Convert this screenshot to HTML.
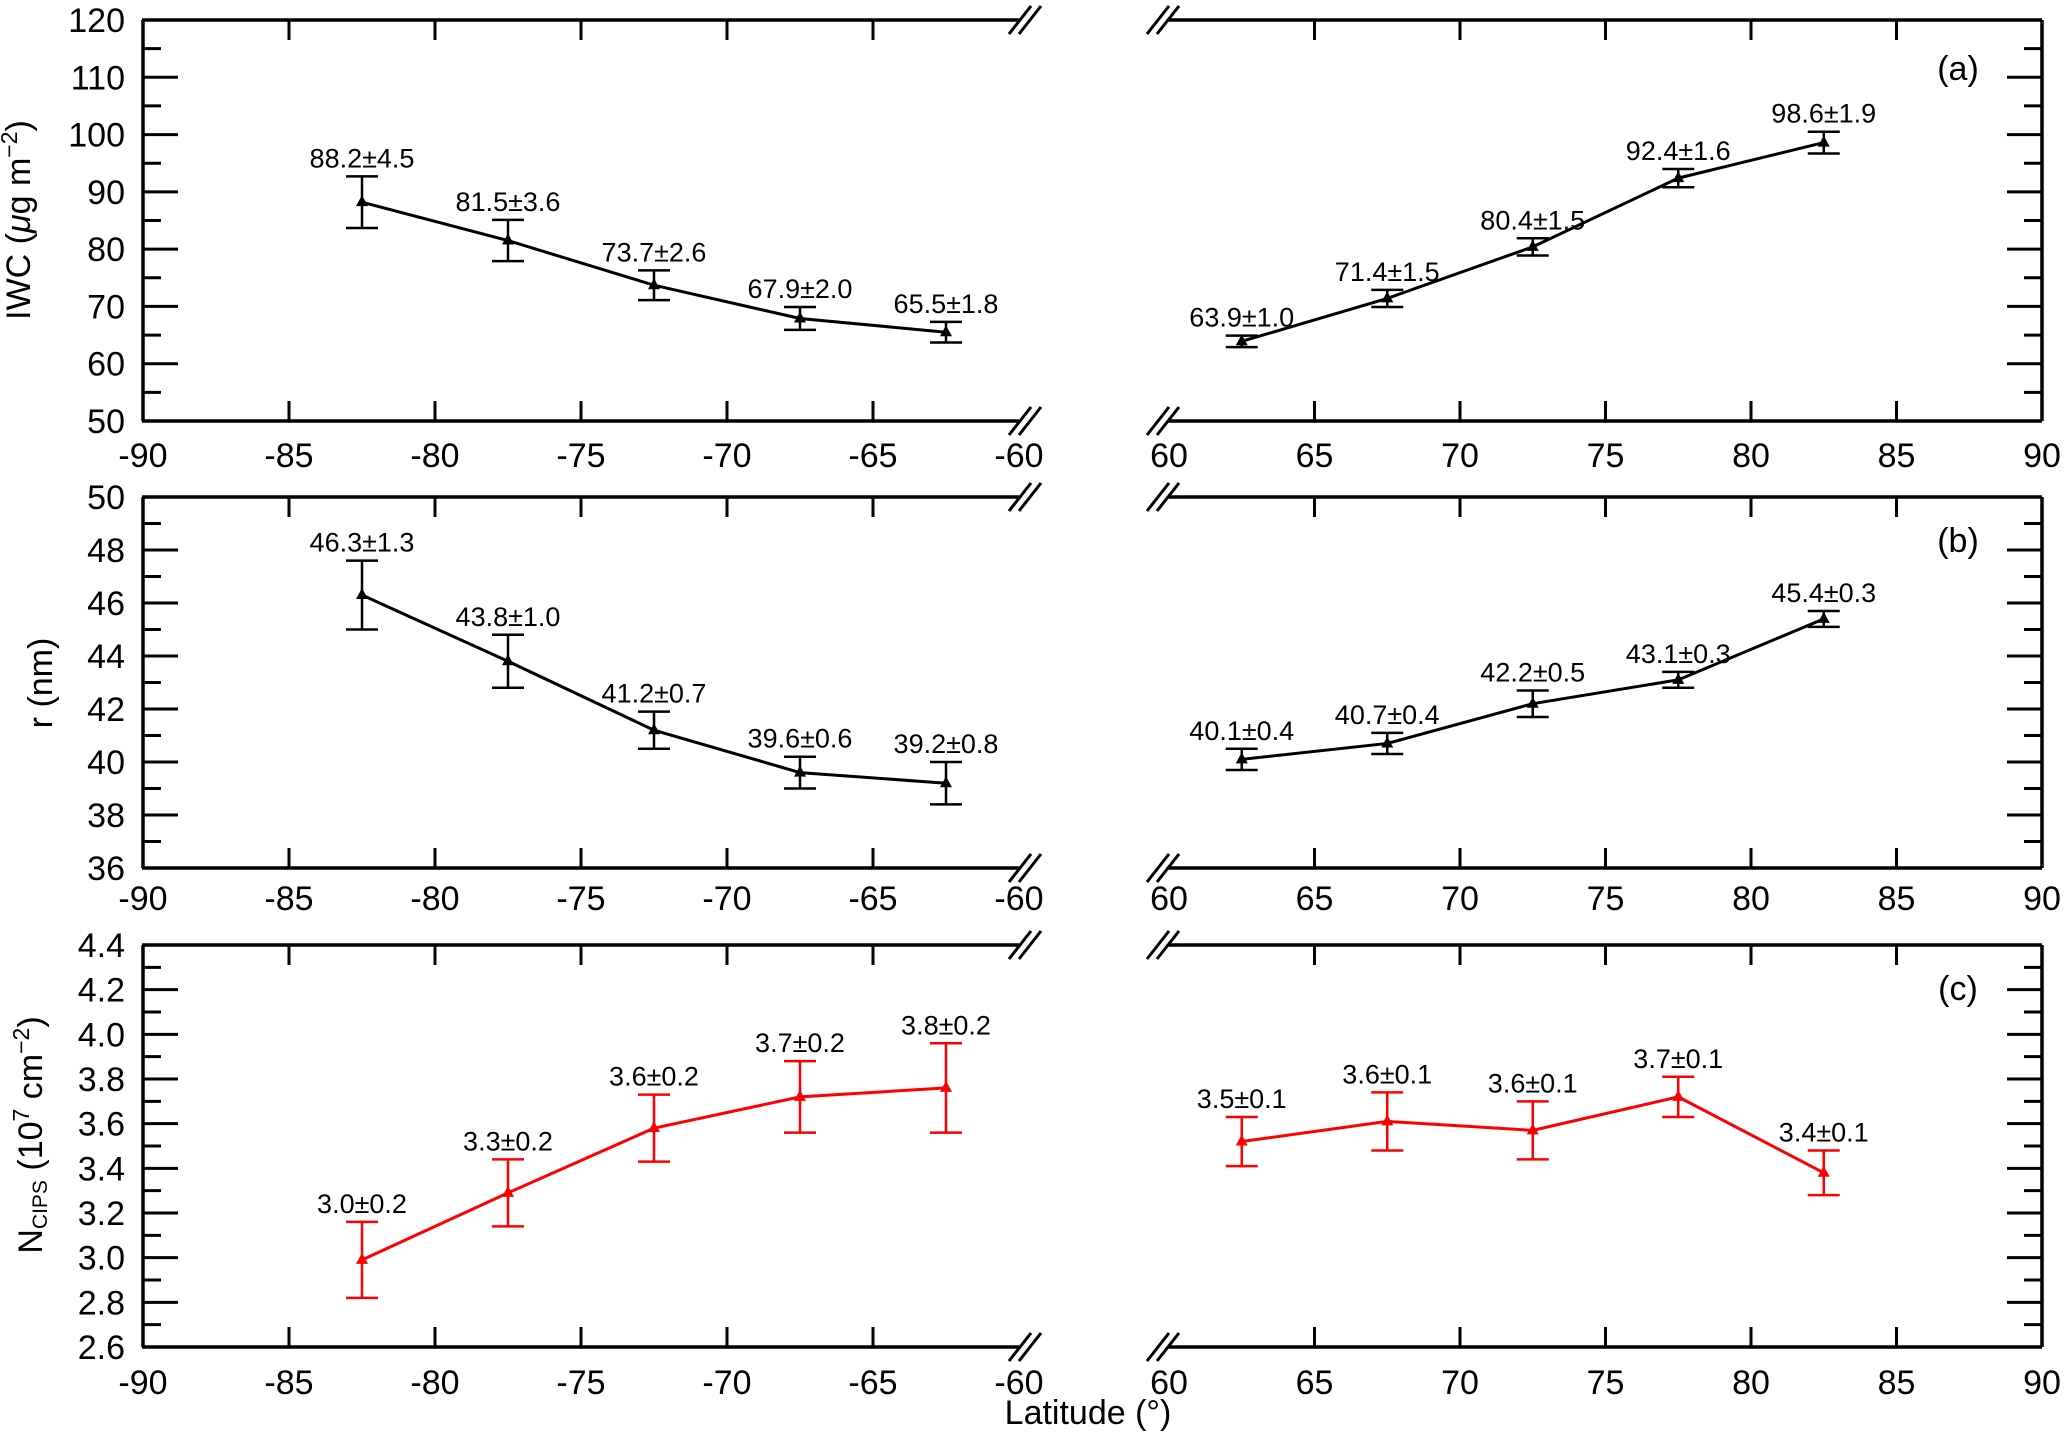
<!DOCTYPE html>
<html><head><meta charset="utf-8"><style>
html,body{margin:0;padding:0;background:#fff}
svg{display:block}
text{font-family:"Liberation Sans","DejaVu Sans",sans-serif;fill:#000}
</style></head><body>
<svg id="chart" xmlns="http://www.w3.org/2000/svg" width="2067" height="1441" viewBox="0 0 2067 1441"></svg>
<script>
const latsS = [-82.5, -77.5, -72.5, -67.5, -62.5];
const latsN = [62.5, 67.5, 72.5, 77.5, 82.5];
const iwcS = [88.2, 81.5, 73.7, 67.9, 65.5];
const iwcSErr = [4.5, 3.6, 2.6, 2.0, 1.8];
const iwcN = [63.9, 71.4, 80.4, 92.4, 98.6];
const iwcNErr = [1.0, 1.5, 1.5, 1.6, 1.9];
const rS = [46.3, 43.8, 41.2, 39.6, 39.2];
const rSErr = [1.3, 1.0, 0.7, 0.6, 0.8];
const rN = [40.1, 40.7, 42.2, 43.1, 45.4];
const rNErr = [0.4, 0.4, 0.5, 0.3, 0.3];
const nS = [2.99, 3.29, 3.58, 3.72, 3.76];
const nSErr = [0.17, 0.15, 0.15, 0.16, 0.20];
const nN = [3.52, 3.61, 3.57, 3.72, 3.38];
const nNErr = [0.11, 0.13, 0.13, 0.09, 0.10];
const nSLabels = ["3.0±0.2","3.3±0.2","3.6±0.2","3.7±0.2","3.8±0.2"];
const nNLabels = ["3.5±0.1","3.6±0.1","3.6±0.1","3.7±0.1","3.4±0.1"];
const xTicksS = [-90,-85,-80,-75,-70,-65,-60];
const xTicksN = [60,65,70,75,80,85,90];

const svg = document.getElementById('chart');
const NS = 'http://www.w3.org/2000/svg';
function mk(tag, attrs, parent, name){
  const e = document.createElementNS(NS, tag);
  for (const k in attrs) e.setAttribute(k, attrs[k]);
  
  
  (parent||svg).appendChild(e);
  return e;
}
const LX0=143, LX1=1019, RX0=1169, RX1=2042;
const xS = v => LX0 + (v+90)/30*(LX1-LX0);
const xN = v => RX0 + (v-60)/30*(RX1-RX0);

const panels = [
 {id:'a', top:20, bot:421, min:50, max:120, major:10, minor:5, dec:0,
  S:iwcS, SE:iwcSErr, N:iwcN, NE:iwcNErr, color:'#000', lblY:68,
  SL:iwcS.map((v,i)=>v.toFixed(1)+'±'+iwcSErr[i].toFixed(1)),
  NL:iwcN.map((v,i)=>v.toFixed(1)+'±'+iwcNErr[i].toFixed(1)), xlab:455},
 {id:'b', top:497, bot:868, min:36, max:50, major:2, minor:1, dec:0,
  S:rS, SE:rSErr, N:rN, NE:rNErr, color:'#000', lblY:540,
  SL:rS.map((v,i)=>v.toFixed(1)+'±'+rSErr[i].toFixed(1)),
  NL:rN.map((v,i)=>v.toFixed(1)+'±'+rNErr[i].toFixed(1)), xlab:898},
 {id:'c', top:945, bot:1347, min:2.6, max:4.4, major:0.2, minor:0.1, dec:1,
  S:nS, SE:nSErr, N:nN, NE:nNErr, color:'#ff0000', lblY:988,
  SL:nSLabels, NL:nNLabels, xlab:1382}
];

panels.forEach(p=>{
  const g = mk('g', {}, svg, 'panel-'+p.id);
  const y = v => p.bot - (v-p.min)/(p.max-p.min)*(p.bot-p.top);
  const sw = 3.5;
  [[LX0,LX1,'left'],[RX0,RX1,'right']].forEach(([x0,x1,side])=>{
    mk('line',{x1:x0-1,y1:p.top,x2:x1,y2:p.top,stroke:'#000','stroke-width':sw},g,side+'-top-axis');
    mk('line',{x1:x0-1,y1:p.bot,x2:x1,y2:p.bot,stroke:'#000','stroke-width':sw},g,side+'-bottom-axis');
  });
  mk('line',{x1:LX0,y1:p.top,x2:LX0,y2:p.bot,stroke:'#000','stroke-width':sw},g,'left-y-axis');
  mk('line',{x1:RX1,y1:p.top,x2:RX1,y2:p.bot,stroke:'#000','stroke-width':sw},g,'right-y-axis');
  [[LX1+6,'left'],[RX0-6,'right']].forEach(([cx,side])=>{
    [p.top,p.bot].forEach(yy=>{
      [-5,5].forEach(o=>{
        mk('line',{x1:cx+o-11,y1:yy+14,x2:cx+o+11,y2:yy-14,stroke:'#000','stroke-width':3},g,side+'-axis-break');
      });
    });
  });
  const nMinor = Math.round((p.max-p.min)/p.minor);
  for(let i=0;i<=nMinor;i++){
    const v = p.min + i*p.minor;
    const isMaj = (i % Math.round(p.major/p.minor))===0;
    const len = isMaj?35:18;
    const yy = y(v);
    mk('line',{x1:LX0,y1:yy,x2:LX0+len,y2:yy,stroke:'#000','stroke-width':3},g,'y-tick');
    mk('line',{x1:RX1,y1:yy,x2:RX1-len,y2:yy,stroke:'#000','stroke-width':3},g,'y-tick-right');
    if(isMaj){
      const t = mk('text',{x:LX0-18,y:yy+12,'text-anchor':'end','font-size':34},g,'y-tick-label');
      t.textContent = v.toFixed(p.dec);
    }
  }
  [[xTicksS,xS],[xTicksN,xN]].forEach(([ticks,fx])=>{
    ticks.forEach(v=>{
      const xx = fx(v);
      if(v!==-90 && v!==90 && v!==-60 && v!==60){
        mk('line',{x1:xx,y1:p.bot,x2:xx,y2:p.bot-20,stroke:'#000','stroke-width':3},g,'x-tick');
        mk('line',{x1:xx,y1:p.top,x2:xx,y2:p.top+20,stroke:'#000','stroke-width':3},g,'x-tick-top');
      }
      const t = mk('text',{x:xx,y:p.xlab+12,'text-anchor':'middle','font-size':34},g,'x-tick-label');
      t.textContent = String(v);
    });
  });
  [[latsS,p.S,p.SE,p.SL,xS,'south'],[latsN,p.N,p.NE,p.NL,xN,'north']].forEach(([lats,vals,errs,labs,fx,hemi])=>{
    const pts = lats.map((l,i)=>fx(l)+','+y(vals[i])).join(' ');
    mk('polyline',{points:pts,fill:'none',stroke:p.color,'stroke-width':3},g,hemi+'-line-'+p.id);
    lats.forEach((l,i)=>{
      const cx=fx(l), cy=y(vals[i]), hi=y(vals[i]+errs[i]), lo=y(vals[i]-errs[i]);
      mk('line',{x1:cx,y1:hi,x2:cx,y2:lo,stroke:p.color,'stroke-width':2.5},g,'error-bar');
      mk('line',{x1:cx-16,y1:hi,x2:cx+16,y2:hi,stroke:p.color,'stroke-width':2.5},g,'error-cap-top');
      mk('line',{x1:cx-16,y1:lo,x2:cx+16,y2:lo,stroke:p.color,'stroke-width':2.5},g,'error-cap-bottom');
      mk('polygon',{points:`${cx},${cy-7} ${cx-6},${cy+4} ${cx+6},${cy+4}`,fill:p.color},g,'data-marker');
      const t = mk('text',{x:cx,y:hi-9,'text-anchor':'middle','font-size':27},g,'value-label');
      t.textContent = labs[i];
    });
  });
  const pl = mk('text',{x:1958,y:p.lblY+12,'text-anchor':'middle','font-size':34},g,'panel-label-'+p.id);
  pl.textContent = '('+p.id+')';
});

let t = mk('text',{transform:'translate(30,220) rotate(-90)','text-anchor':'middle','font-size':34},svg,'y-axis-title-iwc');
t.innerHTML = 'IWC (<tspan font-style="italic">μ</tspan>g m<tspan dy="-13" font-size="23">−2</tspan><tspan dy="13">)</tspan>';
t = mk('text',{transform:'translate(52,683) rotate(-90)','text-anchor':'middle','font-size':34},svg,'y-axis-title-r');
t.textContent = 'r (nm)';
t = mk('text',{transform:'translate(42,1135) rotate(-90)','text-anchor':'middle','font-size':34},svg,'y-axis-title-n');
t.innerHTML = 'N<tspan font-size="21" dy="5">CIPS</tspan><tspan dy="-5"> (10</tspan><tspan dy="-13" font-size="23">7</tspan><tspan dy="13"> cm</tspan><tspan dy="-13" font-size="23">−2</tspan><tspan dy="13">)</tspan>';
t = mk('text',{x:1088,y:1424,'text-anchor':'middle','font-size':34},svg,'x-axis-title');
t.textContent = 'Latitude (°)';
</script>
</body></html>
